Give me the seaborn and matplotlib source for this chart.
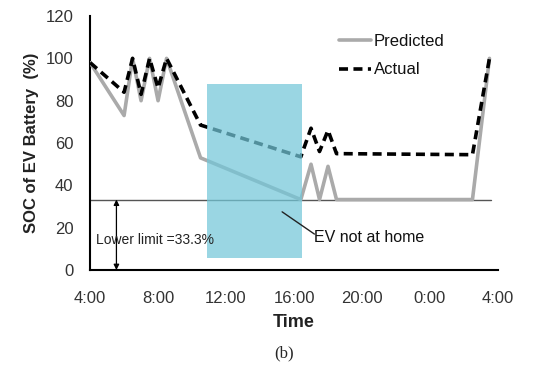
import matplotlib
matplotlib.use("Agg")
import matplotlib.pyplot as plt
import seaborn as sns
import pandas as pd

sns.set_theme(style="white")
plt.rcParams['font.family'] = ['Liberation Sans', 'DejaVu Sans']

# Hours since midnight (4:00 -> 4, next day 4:00 -> 28)
pred_hours = [4.0, 6.0, 6.5, 7.0, 7.5, 8.0, 8.5, 10.5, 16.4, 17.0, 17.5, 18.0, 18.5, 26.5, 27.5]
pred_soc   = [98, 73, 100, 80, 100, 80, 100, 53, 33.3, 50, 33.3, 49, 33.3, 33.3, 100]
act_hours  = [4.0, 6.0, 6.5, 7.0, 7.5, 8.0, 8.5, 10.5, 16.4, 17.0, 17.5, 18.0, 18.5, 26.5, 27.5]
act_soc    = [98, 84, 100, 83, 100, 86, 100, 68.5, 53.5, 67, 56, 66, 55, 54.5, 100]
tick_hours = [4, 8, 12, 16, 20, 24, 28]
tick_labels = ["4:00", "8:00", "12:00", "16:00", "20:00", "0:00", "4:00"]
y_ticks = [0, 20, 40, 60, 80, 100, 120]
lower_limit = 33.3
away_start, away_end = 10.9, 16.45

df = pd.concat([
    pd.DataFrame({"Time": pred_hours, "SOC": pred_soc, "Series": "Predicted"}),
    pd.DataFrame({"Time": act_hours, "SOC": act_soc, "Series": "Actual"}),
])

fig = plt.figure(figsize=(5.46, 3.73), dpi=100)
ax = fig.add_axes([0.165, 0.276, 0.747, 0.681])

sns.lineplot(data=df[df.Series == "Predicted"], x="Time", y="SOC", ax=ax,
             color="#aaaaaa", lw=2.6, label="Predicted", sort=False, zorder=3)
sns.lineplot(data=df[df.Series == "Actual"], x="Time", y="SOC", ax=ax,
             color="black", lw=2.6, ls=(0, (2.5, 1.5)), label="Actual", sort=False, zorder=3)

ax.plot([4, 27.6], [lower_limit, lower_limit], color="#555555", lw=1.0, zorder=2)

ax.fill_between([away_start, away_end], 5.5, 88, color=(0.45, 0.78, 0.85), alpha=0.72,
                lw=0, zorder=4)

ax.annotate("", xy=(5.55, 0), xytext=(5.55, lower_limit),
            arrowprops=dict(arrowstyle="<|-|>", color="black", lw=0.9,
                            mutation_scale=8, shrinkA=0, shrinkB=0), zorder=5)
ax.text(4.35, 14, "Lower limit =33.3%", fontsize=10, color="#222222", va="center", zorder=6)

ax.plot([15.3, 17.2], [27.5, 17.0], color="#222222", lw=1.0, zorder=5)
ax.text(17.2, 15.5, "EV not at home", fontsize=11.5, color="#111111", va="center", zorder=6)

ax.set_xlim(4, 28)
ax.set_ylim(0, 120)
ax.set_xticks(tick_hours)
ax.set_xticklabels(tick_labels)
ax.set_yticks(y_ticks)
ax.tick_params(direction="in", length=5, width=1.3, labelsize=12, colors="black",
               labelcolor="#333333")
ax.tick_params(axis="x", pad=15)
ax.tick_params(axis="y", pad=12)
for s in ["top", "right"]:
    ax.spines[s].set_visible(False)
for s in ["left", "bottom"]:
    ax.spines[s].set_color("black")
    ax.spines[s].set_linewidth(1.5)

ax.set_xlabel("Time", fontsize=13, fontweight="bold", labelpad=6, color="#222222")
ax.set_ylabel("SOC of EV Battery  (%)", fontsize=12, fontweight="bold", labelpad=5,
              color="#222222")

leg = ax.legend(loc="upper left", bbox_to_anchor=(0.595, 0.955), frameon=False, fontsize=12,
                handlelength=1.9, handletextpad=0.15, labelspacing=0.8, borderaxespad=0)
for t in leg.get_texts():
    t.set_color("#111111")

fig.text(0.52, 0.03, "(b)", fontsize=12, family="Liberation Serif", ha="center", va="bottom")

fig.savefig("out.png", dpi=100)
